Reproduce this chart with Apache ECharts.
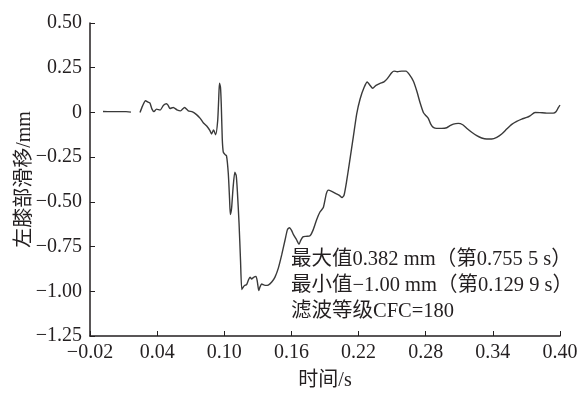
<!DOCTYPE html>
<html>
<head>
<meta charset="utf-8">
<script src="https://cdn.jsdelivr.net/npm/echarts@6/dist/echarts.min.js"></script>
<style>
  html, body { margin: 0; padding: 0; background: #fff; }
  #chart { width: 581px; height: 396px; }
</style>
</head>
<body>
<div id="chart"></div>
<script>
// Left-knee slip displacement over time (mm vs s); null marks the break in the trace
const timeS = [
  -0.0084, -0.0021, 0.0050, 0.0122, 0.0166, null,
  0.0247, 0.0269, 0.0296, 0.0318, 0.0336, 0.0354, 0.0372, 0.0394, 0.0426, 0.0457,
  0.0484, 0.0497, 0.0515, 0.0544, 0.0577, 0.0609, 0.0645, 0.0678, 0.0716, 0.0752,
  0.0783, 0.0814, 0.0843, 0.0872, 0.0886, 0.0904, 0.0923, 0.0941, 0.0950, 0.0957,
  0.0966, 0.0973, 0.0982, 0.0991, 0.1005, 0.1020, 0.1036, 0.1047, 0.1054, 0.1065,
  0.1078, 0.1094, 0.1107, 0.1118, 0.1132, 0.1145, 0.1156, 0.1167, 0.1181, 0.1200,
  0.1216, 0.1230, 0.1245, 0.1259, 0.1283, 0.1295, 0.1308, 0.1319, 0.1334, 0.1364,
  0.1393, 0.1424, 0.1453, 0.1483, 0.1513, 0.1543, 0.1565, 0.1583, 0.1601, 0.1617,
  0.1647, 0.1668, 0.1683, 0.1703, 0.1730, 0.1766, 0.1796, 0.1826, 0.1855, 0.1885,
  0.1912, 0.1930, 0.1960, 0.1998, 0.2028, 0.2052, 0.2070, 0.2094, 0.2117, 0.2137,
  0.2153, 0.2183, 0.2213, 0.2249, 0.2278, 0.2302, 0.2326, 0.2356, 0.2392, 0.2427,
  0.2457, 0.2496, 0.2517, 0.2546, 0.2586, 0.2624, 0.2653, 0.2689, 0.2720, 0.2749,
  0.2779, 0.2803, 0.2823, 0.2845, 0.2868, 0.2898, 0.2943, 0.2988, 0.3017, 0.3047,
  0.3091, 0.3131, 0.3166, 0.3211, 0.3256, 0.3300, 0.3345, 0.3390, 0.3435, 0.3479,
  0.3524, 0.3569, 0.3613, 0.3658, 0.3703, 0.3732, 0.3777, 0.3821, 0.3881, 0.3940,
  0.3964, 0.3985, 0.4000
];
const slipMm = [
  0.0056, 0.0044, 0.0044, 0.0044, 0.0017, null,
  0.0000, 0.0350, 0.0656, 0.0572, 0.0517, 0.0183, 0.0044, 0.0183, 0.0128, 0.0406,
  0.0489, 0.0406, 0.0222, 0.0278, 0.0144, 0.0089, 0.0278, 0.0089, 0.0033, -0.0122,
  -0.0317, -0.0594, -0.0761, -0.1022, -0.1206, -0.0983, -0.1244, -0.0467, 0.0739, 0.1628,
  0.1406, 0.0461, -0.1483, -0.2222, -0.2344, -0.2428, -0.3428, -0.4817, -0.5706, -0.5372,
  -0.4261, -0.3344, -0.3539, -0.4539, -0.6206, -0.8261, -0.9900, -0.9789, -0.9678, -0.9622,
  -0.9372, -0.9206, -0.9317, -0.9233, -0.9167, -0.9444, -0.9956, -0.9761, -0.9594, -0.9667,
  -0.9650, -0.9483, -0.9206, -0.8706, -0.7967, -0.7133, -0.6539, -0.6444, -0.6594, -0.6817,
  -0.7133, -0.7372, -0.7150, -0.6956, -0.6928, -0.6900, -0.6539, -0.5983, -0.5567, -0.5317,
  -0.4539, -0.4344, -0.4411, -0.4539, -0.4633, -0.4761, -0.4633, -0.3817, -0.2872, -0.2039,
  -0.1372, -0.0094, 0.0739, 0.1389, 0.1700, 0.1517, 0.1350, 0.1517, 0.1628, 0.1711,
  0.1889, 0.2222, 0.2311, 0.2278, 0.2311, 0.2311, 0.2128, 0.1756, 0.1200, 0.0556,
  0.0000, -0.0189, -0.0333, -0.0650, -0.0833, -0.0889, -0.0889, -0.0856, -0.0744, -0.0650,
  -0.0611, -0.0689, -0.0889, -0.1111, -0.1300, -0.1428, -0.1483, -0.1483, -0.1389, -0.1206,
  -0.0928, -0.0667, -0.0500, -0.0372, -0.0278, -0.0189, 0.0000, -0.0011, -0.0039, -0.0039,
  0.0033, 0.0267, 0.0406
];

// Axis ranges and tick steps
const xRange = [-0.02, 0.40];
const xStep = 0.06;
const yRange = [-1.25, 0.50];
const yStep = 0.25;

const xName = '时间/s';
const yName = '左膝部滑移/mm';
const noteLines = [
  '最大值0.382 mm（第0.755 5 s）',
  '最小值−1.00 mm（第0.129 9 s）',
  '滤波等级CFC=180'
];

const seriesData = timeS.map((t, i) => (t === null ? [null, null] : [t, slipMm[i]]));

const FONT = '"Liberation Serif", "Noto Sans CJK SC", serif';
const INK = '#231f20';

function fmt(v) {
  if (Math.abs(v) < 1e-9) return '0';
  return v.toFixed(2).replace('-', '−');
}

const chart = echarts.init(document.getElementById('chart'), null, { renderer: 'canvas' });
chart.setOption({
  animation: false,
  backgroundColor: '#ffffff',
  grid: { left: 90, right: 21, top: 23, bottom: 58, containLabel: false },
  xAxis: {
    type: 'value',
    min: xRange[0],
    max: xRange[1],
    interval: xStep,
    name: xName,
    nameLocation: 'middle',
    nameGap: 35,
    nameMoveOverlap: false,
    nameTextStyle: { fontFamily: FONT, fontSize: 20, color: INK },
    axisLine: { onZero: false, lineStyle: { color: INK, width: 1.5 } },
    axisTick: { inside: true, length: 5, lineStyle: { color: INK, width: 1 } },
    axisLabel: { margin: 7, fontFamily: FONT, fontSize: 20, color: INK, formatter: fmt },
    splitLine: { show: false }
  },
  yAxis: {
    type: 'value',
    min: yRange[0],
    max: yRange[1],
    interval: yStep,
    name: yName,
    nameLocation: 'middle',
    nameGap: 55,
    nameMoveOverlap: false,
    nameRotate: 90,
    nameTextStyle: { fontFamily: FONT, fontSize: 20, color: INK },
    axisLine: { show: true, onZero: false, lineStyle: { color: INK, width: 1.5 } },
    axisTick: { show: true, inside: true, length: 5, lineStyle: { color: INK, width: 1 } },
    axisLabel: { margin: 8, fontFamily: FONT, fontSize: 20, color: INK, formatter: fmt },
    splitLine: { show: false }
  },
  series: [{
    type: 'line',
    data: seriesData,
    showSymbol: false,
    connectNulls: false,
    smooth: 0.2,
    lineStyle: { color: '#3a3a3a', width: 1.4 }
  }],
  graphic: noteLines.map((txt, i) => ({
    type: 'text',
    left: 291,
    top: 249 + i * 26,
    style: { text: txt, font: '20.5px ' + FONT, fill: INK }
  }))
});
</script>
</body>
</html>
